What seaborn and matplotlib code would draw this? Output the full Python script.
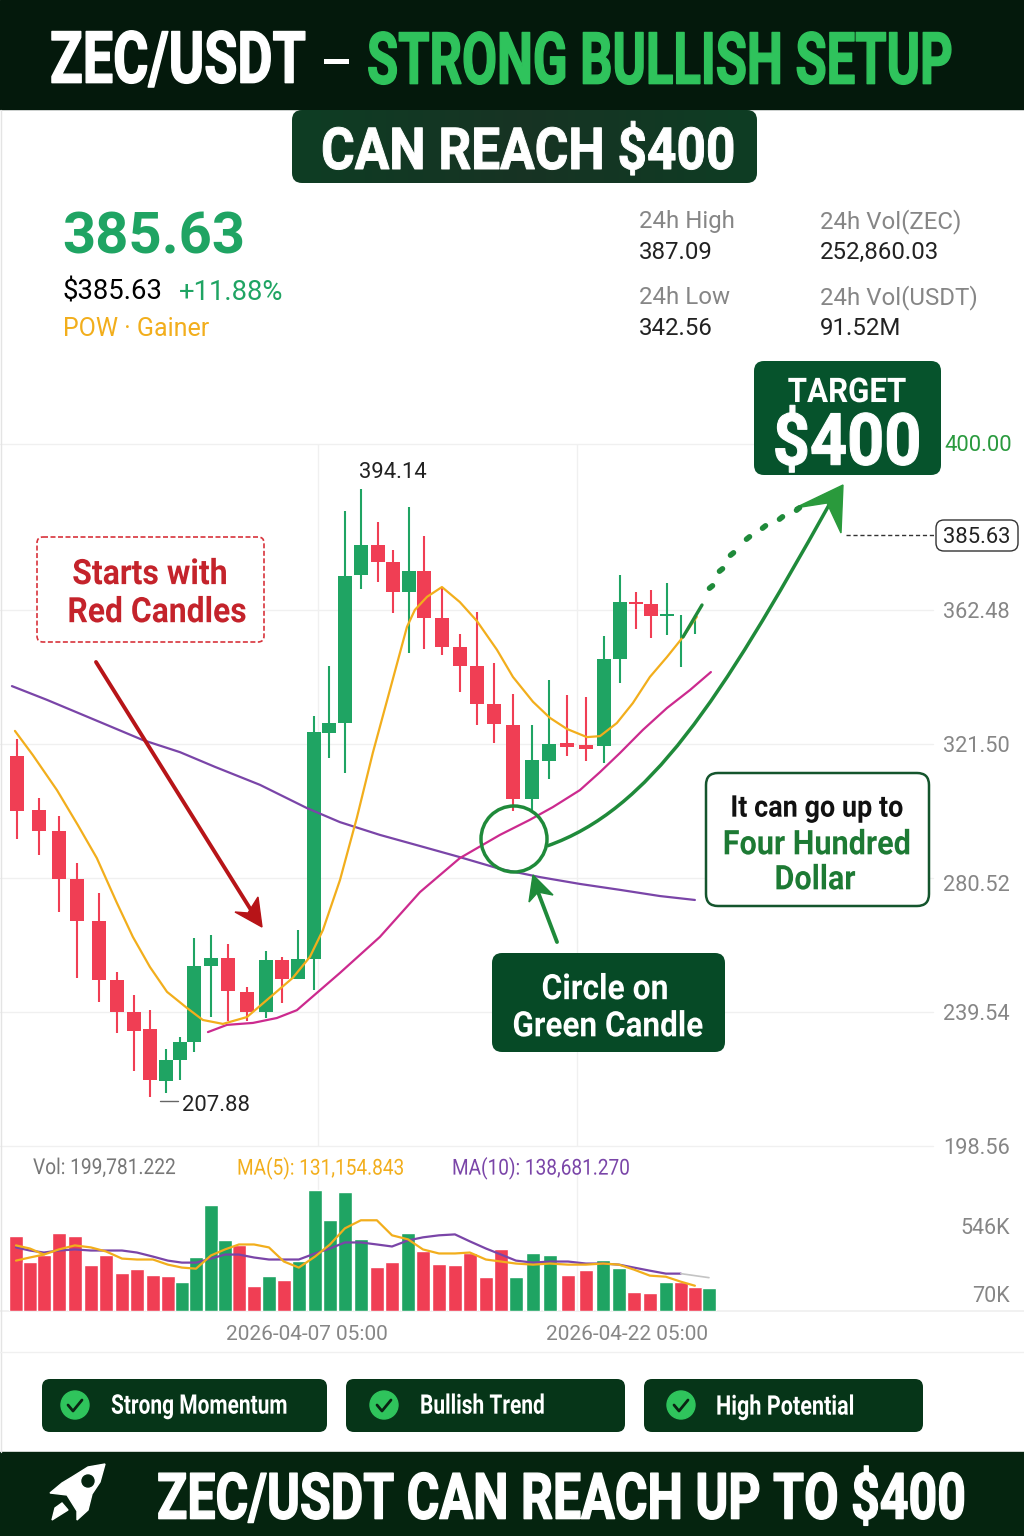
import seaborn as sns
import numpy as np
import matplotlib
matplotlib.use('Agg')
import matplotlib.pyplot as plt
import matplotlib.patheffects as pe
from matplotlib.patches import FancyBboxPatch, Rectangle, Circle, Polygon, PathPatch
from matplotlib.path import Path
from matplotlib.transforms import Affine2D, ScaledTranslation

# candles, days counted from 2026-04-07 05:00
candle_day = [-13.6, -12.56, -11.63, -10.78, -9.75, -8.91, -8.11, -7.36, -6.61, -5.95, -5.30, -4.50, -3.70, -2.81,
              -1.92, -1.17, -0.42, 0.33, 1.03, 1.78, 2.53, 3.33, 4.03, 4.78, 5.49, 6.33, 7.17, 7.97, 8.77, 9.66,
              10.55, 11.35, 12.19, 13.08, 13.92, 14.67, 15.42, 16.13, 16.88, 17.53, 18.19]
opens = [317.9, 301.3, 294.9, 280.2, 267.4, 249.3, 239.5, 234.4, 218.5, 224.9, 230.4, 253.6, 256.1, 245.7,
         239.5, 255.4, 249.6, 255.8, 324.9, 327.9, 373.2, 382.4, 377.2, 368.0, 374.4, 360.0, 351.2, 345.4, 333.7, 327.3,
         304.7, 316.3, 321.8, 321.2, 320.9, 347.5, 364.9, 364.3, 360.6, 350.0, 358.0]
highs = [323.0, 305.0, 299.5, 285.1, 275.9, 251.8, 244.8, 240.1, 228.2, 231.9, 262.2, 263.1, 260.4, 247.2,
         258.2, 256.4, 264.6, 330.1, 345.4, 392.8, 399.5, 389.4, 380.8, 394.0, 385.1, 369.5, 355.1, 361.9, 346.3, 336.8,
         327.3, 341.1, 336.5, 335.9, 354.5, 373.2, 368.0, 368.6, 370.7, 361.0, 361.0]
lows = [292.4, 287.5, 270.1, 250.0, 242.6, 233.1, 221.5, 213.5, 214.8, 218.8, 227.3, 238.0, 236.8, 236.8,
        237.7, 242.3, 249.6, 246.3, 317.2, 312.6, 368.9, 371.0, 361.6, 349.3, 350.6, 348.7, 337.4, 327.3, 321.8, 301.0,
        301.3, 310.8, 317.9, 316.3, 315.7, 340.2, 356.7, 353.9, 354.8, 345.0, 355.1]
closes = [301.0, 294.9, 280.2, 267.4, 249.3, 239.5, 233.7, 218.8, 224.9, 230.4, 253.6, 256.1, 246.0, 239.5,
          255.4, 249.6, 255.8, 325.2, 327.9, 372.9, 382.4, 377.2, 368.0, 374.4, 360.0, 351.2, 345.4, 333.7, 327.6, 304.7,
          316.6, 321.5, 320.6, 320.0, 347.5, 364.9, 364.3, 360.6, 361.3, 350.0, 358.0]

# moving averages on the price chart
ma_orange_day = [-13.69, -12.85, -11.72, -10.74, -9.85, -8.91, -8.16, -7.36, -6.56, -5.63, -4.88, -3.94, -2.81, -1.88,
                 -0.66, 0.14, 0.75, 1.55, 2.34, 3.09, 3.89, 4.69, 5.06, 5.63, 6.33, 7.17, 7.97, 8.91, 9.66, 10.6,
                 11.39, 12.19, 13.13, 13.74, 14.53, 15.28, 16.08, 16.88, 17.63, 18.28]
ma_orange = [325.5, 318.1, 307.4, 296.7, 286.6, 272.9, 262.5, 253.3, 245.7, 240.8, 237.1, 235.9, 238.0, 243.2,
             250.0, 256.4, 264.6, 279.9, 298.9, 318.8, 338.0, 357.3, 362.5, 366.5, 369.5, 364.9, 359.1, 350.3, 342.0, 334.4,
             329.5, 326.1, 323.6, 323.9, 327.9, 334.0, 342.0, 348.1, 354.2, 360.4]
ma_pink_day = [-4.64, -3.75, -2.53, -1.41, -0.47, 0.47, 1.55, 3.42, 5.3, 7.17, 9.05, 10.45, 11.53, 12.8, 13.74, 14.67,
               15.75, 16.88, 17.96, 18.94]
ma_pink = [233.4, 235.6, 236.2, 237.7, 240.1, 245.4, 251.5, 262.5, 276.2, 286.6, 293.7, 298.3, 302.2, 307.4, 312.9, 318.7,
           325.8, 332.5, 338.0, 343.5]
ma_purple_day = [-13.83, -12.19, -9.7, -7.69, -5.95, -4.31, -2.2, 0, 1.55, 3.42, 5.3, 7.17, 9.05, 10.92, 12.8, 14.67,
                 16.55, 18.19]
ma_purple = [339.2, 335.0, 328.2, 322.7, 319.0, 314.5, 309.0, 301.9, 297.6, 293.7, 290.3, 286.9, 283.3, 280.8, 278.7, 276.9,
             275.0, 273.8]
price_ticks = [362.48, 321.50, 280.52, 239.54, 198.56]

# volume, in thousands
vol_day = [-13.64, -12.99, -12.33, -11.63, -10.88, -10.13, -9.42, -8.67, -7.97, -7.22, -6.52, -5.86, -5.20, -4.50, -3.84,
           -3.19, -2.48, -1.78, -1.08, -0.38, 0.38, 1.08, 1.78, 2.53, 3.28, 3.99, 4.74, 5.44, 6.19, 6.94, 7.64, 8.39,
           9.10, 9.80, 10.60, 11.39, 12.24, 13.08, 13.88, 14.63, 15.33, 16.08, 16.83, 17.53, 18.19, 18.85]
volume = [481, 319, 358, 500, 481, 299, 358, 247, 273, 234, 228, 189, 351, 683, 455, 423, 163, 228, 202, 325, 780, 585, 767,
          462, 286, 319, 500, 390, 306, 299, 371, 221, 403, 221, 377, 364, 234, 267, 332, 280, 124, 117, 189, 189, 156, 150]
vol_dir = ['down'] * 11 + ['up'] * 4 + ['down', 'down', 'up', 'down'] + ['up'] * 5 + ['down', 'down', 'up'] + ['down'] * 6 + \
          ['up'] * 3 + ['down', 'down', 'up', 'up', 'down', 'down', 'up', 'down', 'down', 'up']
vol_ma5 = [423, 403, 364, 397, 423, 410, 384, 338, 332, 332, 299, 280, 273, 358, 397, 429, 429, 410, 319, 280, 351, 429, 533,
           585, 585, 488, 462, 397, 371, 371, 377, 332, 319, 306, 299, 306, 299, 299, 306, 299, 267, 228, 221, 189, 163]
vol_ma5_early = [325, 345, 364]
vol_ma10 = [410, 390, 377, 390, 397, 390, 390, 390, 377, 351, 325, 312, 312, 338, 364, 364, 345, 332, 332, 332, 371, 403, 442,
            442, 429, 416, 455, 475, 488, 494, 449, 403, 364, 325, 312, 319, 319, 306, 306, 299, 280, 260, 241, 241]
vol_tail = [241, 228, 215]

HEAD = '#04190c'
FOOT = '#05240f'
CHIP = '#063518'
CALLOUT = '#064a26'
TARGET = '#06532c'
GREEN = '#1fa463'
RED = '#f03e54'
ARROW = '#1f8a3a'
GRID = '#f0f0f0'
ORANGE = '#f2ae1c'
PINK = '#cc2a8e'
PURPLE = '#7a45a8'
GRAY = '#868686'

sns.set_theme(style='white')
plt.rcParams['font.family'] = ['Roboto', 'DejaVu Sans']

fig = plt.figure(figsize=(10.24, 15.36), dpi=100, facecolor='white')


def px_box(top, bottom):
    return [0, 1 - bottom / 1536, 1, (bottom - top) / 1536]


def nudge(label, dy_px):
    label.set_transform(label.get_transform() + ScaledTranslation(0, dy_px / 100, fig.dpi_scale_trans))


# price panel
ax = fig.add_axes(px_box(444, 1146))
ax.set_facecolor('none')
ax.set_xlim(-14.39, 33.62)
ax.set_ylim(198.56, 413.24)
for p in price_ticks:
    ax.axhline(p, xmax=0.911, color=GRID, lw=1, zorder=0, clip_on=False)
ax.axhline(413.24, xmax=0.74, color=GRID, lw=1, zorder=0, clip_on=False)
ax.axvline(0.52, color=GRID, lw=1, zorder=0)
ax.axvline(12.66, color=GRID, lw=1, zorder=0)
for d, o, h, l, c in zip(candle_day, opens, highs, lows, closes):
    col = GREEN if c >= o else RED
    ax.vlines(d, l, h, color=col, lw=1.5, zorder=2)
    ax.bar(d, abs(c - o), bottom=min(o, c), width=0.65, color=col, lw=0, zorder=3)
sns.lineplot(x=ma_purple_day, y=ma_purple, color=PURPLE, lw=1.6, ax=ax, zorder=4)
sns.lineplot(x=ma_pink_day, y=ma_pink, color=PINK, lw=1.6, ax=ax, zorder=4)
sns.lineplot(x=ma_orange_day, y=ma_orange, color=ORANGE, lw=1.6, ax=ax, zorder=4)
ax.set_xticks([])
ax.yaxis.tick_right()
ax.set_yticks(price_ticks)
ax.set_yticklabels(['%.2f' % p for p in price_ticks], fontsize=15.7, color=GRAY, ha='right')
ax.tick_params(axis='y', length=0, pad=-10)
nudge(ax.get_yticklabels()[2], -5)
sns.despine(ax=ax, left=True, right=True, bottom=True, top=True)

# volume panel
axv = fig.add_axes(px_box(1175, 1311))
axv.set_facecolor('none')
sns.barplot(x=vol_day, y=volume, hue=vol_dir, palette={'up': GREEN, 'down': RED}, dodge=False, native_scale=True,
            legend=False, width=1.0, saturation=1, ax=axv, zorder=3)
sns.lineplot(x=vol_day[:len(vol_ma10)], y=vol_ma10, color=PURPLE, lw=1.6, ax=axv, zorder=4)
sns.lineplot(x=vol_day[:len(vol_ma5)], y=vol_ma5, color=ORANGE, lw=1.6, ax=axv, zorder=5)
sns.lineplot(x=vol_day[:len(vol_ma5_early)], y=vol_ma5_early, color=ORANGE, lw=1.6, ax=axv, zorder=5)
sns.lineplot(x=vol_day[43:], y=vol_tail, color='#c4c4c4', lw=1.2, ax=axv, zorder=4)
axv.set_xlim(-14.39, 33.62)
axv.set_ylim(0, 877)
axv.axvline(0.52, color=GRID, lw=1, zorder=0)
axv.axvline(12.66, color=GRID, lw=1, zorder=0)
axv.set_xticks([0, 15])
axv.set_xticklabels(['2026-04-07 05:00', '2026-04-22 05:00'], fontsize=15, color=GRAY)
axv.yaxis.tick_right()
axv.set_yticks([546, 70])
axv.set_yticklabels(['546K', '70K'], fontsize=15.5, color=GRAY, ha='right')
axv.tick_params(axis='y', length=0, pad=-10)
axv.tick_params(axis='x', length=0, pad=10)
nudge(axv.get_yticklabels()[1], 6)
axv.set_xlabel('')
axv.set_ylabel('')
sns.despine(ax=axv, left=True, right=True, top=True, bottom=False)
axv.spines['bottom'].set_color(GRID)

# everything drawn over the chart, in image pixels
ov = fig.add_axes([0, 0, 1, 1], zorder=10)
ov.axis('off')


class Tall(pe.AbstractPathEffect):
    # stretches glyphs upward and thickens them, there is no condensed bold installed
    def __init__(self, sy, y0, fat=0):
        super().__init__()
        self.sy = sy
        self.y0 = y0
        self.fat = fat

    def draw_path(self, renderer, gc, tpath, affine, rgbFace=None):
        tr = affine + Affine2D().translate(0, -self.y0).scale(1, self.sy).translate(0, self.y0)
        gc0 = renderer.new_gc()
        gc0.copy_properties(gc)
        if self.fat:
            gc0.set_linewidth(self.fat)
            gc0.set_foreground(rgbFace)
        else:
            gc0.set_linewidth(0)
        renderer.draw_path(gc0, tpath, tr, rgbFace)
        gc0.restore()


def txt(x, y, s, size, color='black', weight='normal', ha='left', sx=None, fat=0):
    # sx narrows the text: a smaller font that is drawn taller
    fs = size * 0.72 * (sx or 1)
    t = ov.text(x, y, s, fontsize=fs, color=color, fontweight=weight, ha=ha, va='center_baseline')
    if sx:
        t.set_path_effects([Tall(1 / sx, 1536 - y, fat)])
    return t


def box(x0, y0, x1, y1, r, face, edge='none', lw=0, ls='-'):
    patch = FancyBboxPatch((x0 + r, y0 + r), x1 - x0 - 2 * r, y1 - y0 - 2 * r,
                           boxstyle='round,pad=%s,rounding_size=%s' % (r, r),
                           facecolor=face, edgecolor=edge, lw=lw, ls=ls)
    ov.add_patch(patch)
    return patch


# header and footer
ov.add_patch(Rectangle((0, 0), 1024, 109, color=HEAD))
ov.add_patch(Rectangle((0, 1452), 1024, 84, color=FOOT))
ov.plot([1, 1], [110, 1452], color='#e4e4e4', lw=1)
ov.plot([0, 1024], [1352, 1352], color=GRID, lw=1)
txt(50, 56, 'ZEC/USDT', 72, 'white', 'bold', sx=0.75, fat=1)
txt(320, 60, '–', 72, 'white', 'normal', sx=0.72)
txt(367, 56, 'STRONG BULLISH SETUP', 72, '#2fc35c', 'bold', sx=0.705, fat=1)

# pill fades darker to its middle
pill = box(292, 110, 757, 183, 10, 'none')
fade = np.abs(np.linspace(-1, 1, 64))[None, :]
cm = sns.dark_palette('#0e3d23', as_cmap=True)
im = ov.imshow(0.55 + 0.45 * fade, extent=(292, 757, 183, 110), aspect='auto', cmap=cm, vmin=0, vmax=1, zorder=1)
im.set_clip_path(pill)
txt(528, 147, 'CAN REACH $400', 58, 'white', 'bold', ha='center', sx=0.886, fat=0.7)

# price summary
txt(62, 232, '385.63', 58, GREEN, 'bold')
txt(63, 289, '$385.63', 27.5, 'black')
txt(179, 289, '+11.88%', 27.5, GREEN)
txt(63, 326, 'POW · Gainer', 25, ORANGE)
txt(639, 219, '24h High', 24, GRAY)
txt(639, 250, '387.09', 24, '#222222')
txt(639, 295, '24h Low', 24, GRAY)
txt(639, 326, '342.56', 24, '#222222')
txt(820, 219, '24h Vol(ZEC)', 24, GRAY)
txt(820, 250, '252,860.03', 24, '#222222')
txt(820, 295, '24h Vol(USDT)', 24, GRAY)
txt(820, 326, '91.52M', 24, '#222222')

# target box and price tags
box(754, 361, 941, 475, 10, TARGET)
txt(847, 389, 'TARGET', 34, 'white', 'bold', ha='center', sx=0.92)
txt(847, 438, '$400', 72, 'white', 'bold', ha='center', sx=0.9, fat=0.8)
txt(944, 443, '400.00', 22, '#2a9a3e')
ov.plot([846, 936], [535, 535], color='#333333', lw=1, ls=(0, (3, 2)))
box(936, 520, 1018, 551, 8, 'white', '#333333', 1)
txt(977, 535, '385.63', 22, '#222222', ha='center')
txt(393, 470, '394.14', 22, '#222222', ha='center')
ov.plot([160, 178], [1101, 1101], color='#666666', lw=1)
txt(182, 1103, '207.88', 22, '#222222')

# red note
box(37, 537, 264, 642, 6, 'white', '#d8343c', 1.2, (0, (3, 1.5)))
txt(150, 571, 'Starts with', 35, '#c4232b', 'bold', ha='center', sx=0.915)
txt(157, 609, 'Red Candles', 35, '#c4232b', 'bold', ha='center', sx=0.91)
ov.plot([96, 251], [662, 910], color='#b71418', lw=2.8)
ov.add_patch(Polygon([(262, 927), (235, 912), (248, 913), (258, 897)], color='#b71418'))

# circle, callouts and arrows
ov.add_patch(Circle((514, 839), 33, fill=False, edgecolor=ARROW, lw=2.5))
ov.add_patch(PathPatch(Path([(547, 846), (650, 810), (720, 700), (829, 505)],
                            [Path.MOVETO, Path.CURVE4, Path.CURVE4, Path.CURVE4]),
                       fill=False, edgecolor=ARROW, lw=2.5))
ov.add_patch(Polygon([(843, 485), (795, 508), (827, 503), (841, 533)], color='#2a9a3c'))
ov.plot([683, 702], [637, 605], color=ARROW, lw=2.4, solid_capstyle='round')
dots = [(711, 587), (721, 570), (732, 554), (748, 538), (764, 527), (781, 518), (798, 509)]
for (dx, dy) in dots:
    ov.plot([dx - 1.5, dx + 1.5], [dy + 1.2, dy - 1.2], color=ARROW, lw=4, solid_capstyle='round')
ov.plot([557, 538], [942, 892], color=ARROW, lw=2.8)
ov.add_patch(Polygon([(533, 875), (529, 902), (538, 892), (553, 895)], color=ARROW))

box(706, 773, 929, 906, 12, 'white', '#14552d', 1.8)
txt(817, 805, 'It can go up to', 30, '#111111', 'bold', ha='center', sx=0.9)
txt(817, 841, 'Four Hundred', 34, '#1d7a34', 'bold', ha='center', sx=0.9)
txt(815, 876, 'Dollar', 34, '#1d7a34', 'bold', ha='center', sx=0.9)
box(492, 953, 725, 1052, 10, CALLOUT)
txt(605, 986, 'Circle on', 35, 'white', 'bold', ha='center', sx=0.91)
txt(608, 1023, 'Green Candle', 35, 'white', 'bold', ha='center', sx=0.9)

# volume readout
txt(33, 1166, 'Vol: 199,781.222', 22, '#777777', sx=0.87)
txt(237, 1166, 'MA(5): 131,154.843', 22, ORANGE, sx=0.865)
txt(452, 1166, 'MA(10): 138,681.270', 22, PURPLE, sx=0.865)

# chips
chips = [(42, 327, 75, 111, 'Strong Momentum', 0.775), (346, 625, 384, 420, 'Bullish Trend', 0.775),
         (644, 923, 681, 716, 'High Potential', 0.8)]
for x0, x1, cx, tx, label, squeeze in chips:
    box(x0, 1379, x1, 1432, 8, CHIP)
    ov.add_patch(Circle((cx, 1405), 14, color='#2fc45c'))
    ov.plot([cx - 7, cx - 2, cx + 7], [1405, 1411, 1400], color='#0a2413', lw=2)
    txt(tx, 1404, label, 27, 'white', 'bold', sx=squeeze)

# footer text and rocket
txt(157, 1495, 'ZEC/USDT CAN REACH UP TO $400', 64, 'white', 'bold', sx=0.782, fat=1)
ov.add_patch(Polygon([(105, 1464), (88, 1467), (72, 1477), (62, 1483), (50, 1493), (67, 1495), (77, 1511), (77, 1520),
                      (88, 1510), (92, 1494), (100, 1482)], color='white'))
ov.add_patch(Polygon([(52, 1520), (55, 1508), (62, 1503), (68, 1510)], color='white'))
ov.add_patch(Circle((88, 1481), 6, color=FOOT))

ov.set_xlim(0, 1024)
ov.set_ylim(1536, 0)
fig.savefig('out.png', dpi=100)
